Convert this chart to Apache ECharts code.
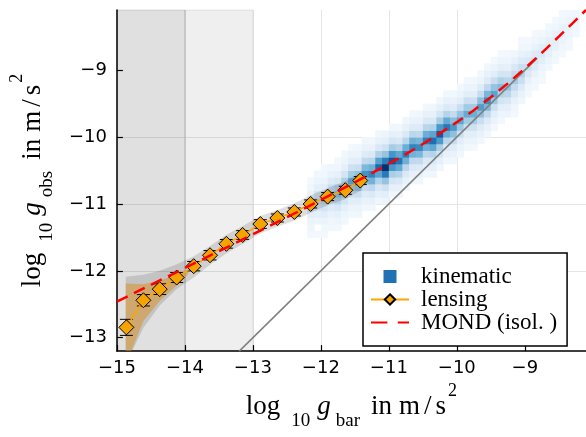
<!DOCTYPE html>
<html><head><meta charset="utf-8">
<script src="https://cdn.jsdelivr.net/npm/echarts@6/dist/echarts.min.js"></script>
<style>html,body{margin:0;padding:0;background:#fff}#c{width:586px;height:437px}</style>
</head><body><div id="c"></div>
<script>
// ---------- data ----------
const xTicks = [-15, -14, -13, -12, -11, -10, -9];
const yTicks = [-13, -12, -11, -10, -9];
const shadeDark = [-15, -14];
const shadeLight = [-14, -13];

// kinematic 2D histogram (0.1 dex bins): column centres, lowest bin centre, counts upward
const kinX = [-12.15,-12.05,-11.95,-11.85,-11.75,-11.65,-11.55,-11.45,-11.35,-11.25,
              -11.15,-11.05,-10.95,-10.85,-10.75,-10.65,-10.55,-10.45,-10.35,-10.25,
              -10.15,-10.05,-9.95,-9.85,-9.75,-9.65,-9.55,-9.45,-9.35,-9.25,
              -9.15,-9.05,-8.95,-8.85,-8.75,-8.65,-8.55,-8.45,-8.35,-8.25];
const kinY0 = [-11.55,-11.45,-11.45,-11.35,-11.35,-11.25,-11.15,-11.15,-11.05,-11.05,
               -10.95,-10.95,-10.85,-10.85,-10.75,-10.65,-10.65,-10.55,-10.55,-10.45,
               -10.35,-10.35,-10.25,-10.15,-10.15,-10.05,-9.95,-9.85,-9.75,-9.75,
               -9.65,-9.55,-9.45,-9.35,-9.25,-9.15,-9.05,-8.95,-8.85,-8.75];
const kinCounts = [
  [0,1,3,5,11,18,12,6,3,1,0],[1,0,4,9,16,24,17,9,4,2,0],[1,2,5,11,19,28,20,11,5,2,1],[2,3,6,13,22,32,23,13,6,3,0],
  [1,4,8,16,28,40,29,16,8,3,1],[2,4,9,18,32,45,33,18,9,4,2],[2,5,10,20,35,50,36,21,10,5,1],[3,5,11,22,39,56,40,23,11,5,2],
  [2,6,12,25,43,62,45,26,12,6,3],[3,7,14,27,48,68,49,28,14,6,2],[3,8,16,31,55,78,56,32,15,7,3],[4,10,20,40,72,100,70,40,20,9,4],
  [3,8,17,34,60,85,61,35,17,8,3],[3,7,15,30,52,74,53,31,15,7,2],[2,7,14,28,49,70,50,29,14,7,3],[3,7,14,27,48,68,49,28,13,6,2],
  [2,6,13,26,46,66,47,27,13,6,3],[3,7,14,28,49,70,50,29,14,7,2],[3,8,15,30,53,76,55,31,15,7,3],[3,8,17,34,59,84,60,35,17,8,3],
  [3,7,14,29,50,72,52,30,14,7,2],[2,6,12,24,42,60,43,25,12,6,2],[2,5,11,22,38,55,40,23,11,5,2],[2,5,10,21,36,52,37,22,10,5,1],
  [1,5,10,20,35,50,36,21,10,5,2],[2,6,12,23,41,58,42,24,12,5,1],[2,6,13,26,45,64,46,27,13,6,2],[1,5,11,22,38,55,40,23,11,5,1],
  [1,4,9,18,31,44,32,18,9,4,1],[0,4,8,16,28,40,29,17,8,4,1],[1,3,7,14,25,36,26,15,7,3,0],[0,3,6,13,22,32,23,13,6,3,1],
  [0,1,3,7,14,22,15,8,3,1,0],[0,1,3,6,12,18,13,6,3,1,0],[0,1,2,5,10,15,11,5,2,0,0],[0,0,2,4,8,12,9,4,2,0,0],
  [0,0,2,3,7,10,7,3,1,0,0],[0,0,1,3,5,8,6,3,1,0,0],[0,0,1,2,4,6,4,2,1,0,0],[0,0,0,2,3,5,3,2,0,0,0]
];
const kinBin = 0.1;

// lensing points
const lensX = [-14.86,-14.61,-14.37,-14.12,-13.87,-13.63,-13.39,-13.15,-12.89,-12.64,-12.39,-12.15,-11.9,-11.64,-11.42];
const lensY = [-12.845,-12.44,-12.274,-12.10,-11.93,-11.767,-11.596,-11.464,-11.30,-11.21,-11.12,-11.00,-10.89,-10.795,-10.65];
const lensErr = [0.12,0.085,0.08,0.075,0.07,0.07,0.065,0.065,0.065,0.06,0.06,0.06,0.06,0.06,0.06];

// lensing uncertainty bands
const bandX  = [-14.87,-14.61,-14.37,-14.12,-13.87,-13.63,-13.39,-13.15,-12.89,-12.64,-12.39,-12.15,-11.9,-11.64,-11.4];
const bandHi = [-12.09,-12.06,-12.00,-11.90,-11.78,-11.63,-11.46,-11.33,-11.18,-11.09,-10.99,-10.87,-10.76,-10.66,-10.52];
const bandLo = [-13.40,-12.85,-12.52,-12.27,-12.10,-11.91,-11.74,-11.60,-11.44,-11.34,-11.25,-11.13,-11.02,-10.93,-10.79];
const lowBandX  = [-14.87,-14.61,-14.37,-14.12,-13.95];
const lowBandHi = [-12.19,-12.20,-12.15,-12.05,-11.98];
const lowBandLo = [-13.40,-12.75,-12.45,-12.22,-12.05];

// MOND (isolated) curve
const mondX = [-15,-14.75,-14.5,-14.25,-14,-13.75,-13.5,-13.25,-13,-12.75,-12.5,-12.25,-12,-11.75,-11.5,-11.25,-11,-10.75,-10.5,-10.25,-10,-9.75,-9.5,-9.25,-9,-8.75,-8.5,-8.25,-8.1];
const mondY = [-12.460,-12.335,-12.209,-12.084,-11.958,-11.833,-11.707,-11.581,-11.454,-11.327,-11.199,-11.071,-10.941,-10.809,-10.676,-10.539,-10.399,-10.255,-10.104,-9.945,-9.777,-9.598,-9.405,-9.197,-8.975,-8.741,-8.497,-8.250,-8.100];

// one-to-one line
const unityX = [-13.2, -8.82];

// ---------- chart ----------
const kinData = [];
kinX.forEach((x, i) => kinCounts[i].forEach((c, j) => {
  if (c > 0) kinData.push([x, +(kinY0[i] + j * kinBin).toFixed(2), c]);
}));

const SERIF = 'Liberation Serif';
const rich = {
  m:  {fontFamily: SERIF, fontSize: 27, lineHeight: 27, color: '#000'},
  i:  {fontFamily: SERIF, fontSize: 27, lineHeight: 27, color: '#000', fontStyle: 'italic', padding: [0,0,0,7]},
  s1: {fontFamily: SERIF, fontSize: 19, lineHeight: 19, color: '#000', padding: [29,0,0,11]},
  s2: {fontFamily: SERIF, fontSize: 19, lineHeight: 19, color: '#000', padding: [29,0,0,5]},
  w:  {fontFamily: SERIF, fontSize: 27, lineHeight: 27, color: '#000', padding: [0,0,0,11]},
  v:  {fontFamily: SERIF, fontSize: 27, lineHeight: 27, color: '#000', padding: [0,0,0,7]},
  sl: {fontFamily: SERIF, fontSize: 27, lineHeight: 27, color: '#000', padding: [0,0,0,4]},
  p:  {fontFamily: SERIF, fontSize: 18, lineHeight: 18, color: '#000', padding: [0,0,32,2]}
};
const tickFmt = v => (v < 0 ? '\u2212' : '') + Math.abs(v);
const labelStyle = {fontFamily: 'DejaVu Sans', fontSize: 18, color: '#000'};

function bandSeries(xs, lo, hi, color, z) {
  return {
    type: 'custom', z: z, silent: true, clip: true,
    data: [[xs[0], hi[0]]],
    renderItem(params, api) {
      const pts = [];
      for (let i = 0; i < xs.length; i++) pts.push(api.coord([xs[i], hi[i]]));
      for (let i = xs.length - 1; i >= 0; i--) pts.push(api.coord([xs[i], lo[i]]));
      return {type: 'polygon', shape: {points: pts}, style: {fill: color}};
    }
  };
}

const chart = echarts.init(document.getElementById('c'), null, {renderer: 'canvas'});
chart.setOption({
  animation: false,
  backgroundColor: '#fff',
  grid: {left: 114, right: 0, top: 10, bottom: 78, containLabel: false},
  xAxis: {
    type: 'value', min: -15, max: -8.1, interval: 1,
    axisLine: {show: true, onZero: false, lineStyle: {color: '#000', width: 1.5}},
    axisTick: {show: true, inside: true, length: 6, lineStyle: {color: '#000', width: 1.2}, customValues: xTicks},
    axisLabel: {...labelStyle, margin: 8, formatter: tickFmt, customValues: xTicks},
    splitLine: {show: true, showMinLine: false, showMaxLine: false, lineStyle: {color: '#e5e5e5', width: 1}},
    name: '{m|log}{s1|10}{i|g}{s2|bar}{w|in}{v|m}{sl|/}{sl|s}{p|2}',
    nameLocation: 'middle', nameGap: 33,
    nameTextStyle: {rich: rich}
  },
  yAxis: {
    type: 'value', min: -13.2, max: -8.1, splitNumber: 5,
    axisLine: {show: true, onZero: false, lineStyle: {color: '#000', width: 1.5}},
    axisTick: {show: true, inside: true, length: 6, lineStyle: {color: '#000', width: 1.2}, customValues: yTicks},
    axisLabel: {...labelStyle, margin: 10, formatter: tickFmt, customValues: yTicks},
    splitLine: {show: true, showMinLine: false, showMaxLine: false, lineStyle: {color: '#e5e5e5', width: 1}},
    name: '{m|log}{s1|10}{i|g}{s2|obs}{w|in}{v|m}{sl|/}{sl|s}{p|2}',
    nameLocation: 'middle', nameGap: 57,
    nameTextStyle: {rich: rich}
  },
  visualMap: {
    show: false, type: 'continuous', seriesIndex: 0, dimension: 2, min: 0, max: 100,
    inRange: {color: ['#f4f9fe','#deebf7','#c6dbef','#9ecae1','#6baed6','#4292c6','#2171b5','#08519c','#08306b']}
  },
  legend: {
    orient: 'vertical', left: 363, top: 253,
    padding: [12, 10, 12, 7], itemGap: 0, itemWidth: 38, itemHeight: 13,
    backgroundColor: '#fff', borderColor: '#000', borderWidth: 1.5, borderRadius: 0,
    textStyle: {fontFamily: SERIF, fontSize: 23, lineHeight: 23, color: '#000', padding: [0,0,0,7]},
    data: [
      {name: 'kinematic', icon: 'path://M0,0L10,0L10,10L0,10Z', itemStyle: {color: '#2171b5'}},
      {name: 'lensing'},
      {name: 'MOND (isol. )', icon: 'path://M0,0H19V2.6H0Z M31,0H44V2.6H31Z', itemStyle: {color: '#ff0000'}}
    ]
  },
  series: [
    {
      name: 'kinematic', type: 'custom', z: 2, clip: true,
      data: kinData,
      renderItem(params, api) {
        const x = api.value(0), y = api.value(1);
        const a = api.coord([x - kinBin / 2, y + kinBin / 2]);
        const b = api.coord([x + kinBin / 2, y - kinBin / 2]);
        return {type: 'rect', shape: {x: a[0], y: a[1], width: b[0] - a[0] + 0.5, height: b[1] - a[1] + 0.5},
                style: {fill: api.visual('color')}};
      },
      markArea: {
        silent: true,
        data: [
          [{xAxis: shadeDark[0], itemStyle: {color: 'rgba(0,0,0,0.12)', borderColor: 'rgba(0,0,0,0.12)', borderWidth: 1}}, {xAxis: shadeDark[1]}],
          [{xAxis: shadeLight[0], itemStyle: {color: 'rgba(0,0,0,0.063)', borderColor: 'rgba(0,0,0,0.08)', borderWidth: 1}}, {xAxis: shadeLight[1]}]
        ]
      }
    },
    {
      type: 'line', z: 3, silent: true, symbol: 'none',
      data: unityX.map(v => [v, v]),
      lineStyle: {color: '#808080', width: 1.5}
    },
    bandSeries(bandX, bandLo, bandHi, 'rgba(0,0,0,0.13)', 4),
    bandSeries(lowBandX, lowBandLo, lowBandHi, 'rgba(215,145,40,0.55)', 5),
    {
      type: 'custom', z: 6, silent: true,
      data: lensX.map((x, i) => [x, lensY[i], lensErr[i]]),
      renderItem(params, api) {
        const x = api.value(0), y = api.value(1), e = api.value(2);
        const t = api.coord([x, y + e]), b = api.coord([x, y - e]);
        const hw = 6.5, st = {stroke: '#000', lineWidth: 1};
        return {type: 'group', children: [
          {type: 'line', shape: {x1: t[0], y1: t[1], x2: b[0], y2: b[1]}, style: st},
          {type: 'line', shape: {x1: t[0] - hw, y1: t[1], x2: t[0] + hw, y2: t[1]}, style: st},
          {type: 'line', shape: {x1: b[0] - hw, y1: b[1], x2: b[0] + hw, y2: b[1]}, style: st}
        ]};
      }
    },
    {
      name: 'lensing', type: 'line', z: 7,
      data: lensX.map((x, i) => [x, lensY[i]]),
      symbol: 'diamond', symbolSize: 15,
      itemStyle: {color: '#F5A300', borderColor: '#000', borderWidth: 1},
      lineStyle: {color: '#FFA500', width: 1.5}
    },
    {
      name: 'MOND (isol. )', type: 'line', z: 8, showSymbol: false, symbol: 'none',
      data: mondX.map((x, i) => [x, mondY[i]]),
      itemStyle: {color: '#ff0000'},
      lineStyle: {color: '#ff0000', width: 2.5, type: [12, 7]}
    }
  ]
});
</script>
</body></html>
